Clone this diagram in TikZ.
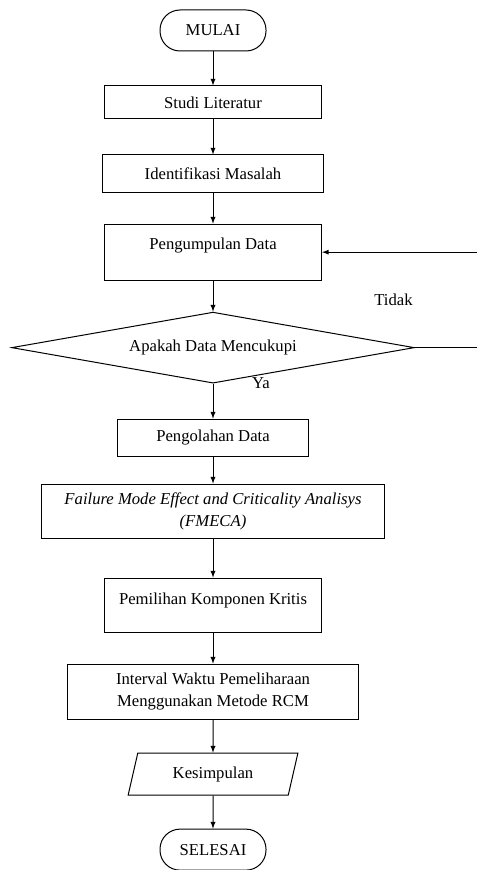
\documentclass[tikz,border=0pt]{standalone}
\usepackage{fontspec}
\setmainfont{Liberation Serif}
\usepackage{tikz}
\usetikzlibrary{shapes.geometric, arrows}
\tikzstyle{block} = [draw, fill=white, rectangle, align=center, inner sep=2pt,
    minimum width=162.75pt, minimum height=24.75pt]
\tikzstyle{terminal} = [draw, fill=white, rectangle, rounded corners=15pt,
    minimum width=79.5pt, minimum height=30.75pt]
\tikzstyle{decision} = [draw, fill=white, diamond, inner sep=0pt, aspect=5.67,
    minimum width=302pt, minimum height=53.25pt]
\tikzstyle{io} = [draw, fill=white, trapezium, trapezium left angle=76.6,
    trapezium right angle=103.4, trapezium stretches=true,
    minimum width=127.5pt, minimum height=31.5pt]
\tikzstyle{line} = [draw, -latex]

\begin{document}
\begin{tikzpicture}[x=0.75pt, y=-0.75pt, line width=0.75pt,
    font=\fontsize{12.5}{16.5}\selectfont, node distance=54pt]
    \useasboundingbox (0,0) rectangle (477,870);

    \node [terminal] (mulai) at (213,30.5) {MULAI};
    \node [block, below of=mulai] (studi) {Studi Literatur};
    \node [block, below of=studi, node distance=53.25pt, minimum width=165.75pt, minimum height=27.75pt] (ident) {Identifikasi Masalah};
    \node [block, below of=ident, node distance=59pt, minimum height=42pt, text depth=13.2pt] (data) {Pengumpulan Data};
    \node [decision, below of=data, node distance=71.6pt] (cek) {Apakah Data Mencukupi};
    \node [block, below of=cek, node distance=67.5pt, minimum width=143.25pt, minimum height=27.75pt] (olah) {Pengolahan Data};
    \node [block, below of=olah, node distance=55.1pt, minimum width=257.25pt, minimum height=40.5pt, font=\fontsize{12.5}{16.5}\selectfont\itshape] (fmeca) {Failure Mode Effect and Criticality Analisys \\ (FMECA)};
    \node [block, below of=fmeca, node distance=70.5pt, minimum height=40.5pt, text depth=10.2pt] (pilih) {Pemilihan Komponen Kritis};
    \node [block, below of=pilih, node distance=64.9pt, minimum width=218.25pt, minimum height=41.25pt] (interval) {Interval Waktu Pemeliharaan \\ Menggunakan Metode RCM};
    \node [io, below of=interval, node distance=61.9pt] (simpul) {Kesimpulan};
    \node [terminal, below of=simpul, node distance=56.6pt] (selesai) {SELESAI};

    \node (tidak) at (393.5,300) {Tidak};
    \node (ya) at (261,383) {Ya};

    \path [line] (mulai) -- (studi);
    \path [line] (studi) -- (ident);
    \path [line] (ident) -- (data);
    \path [line] (data) -- (cek);
    \path [line] (cek) -- (olah);
    \path [line] (olah) -- (fmeca);
    \path [line] (fmeca) -- (pilih);
    \path [line] (pilih) -- (interval);
    \path [line] (interval) -- (simpul);
    \path [line] (simpul) -- (selesai);
    \path [line] (cek.east) -- ++(66,0) |- (data.east);

\end{tikzpicture}
\end{document}
